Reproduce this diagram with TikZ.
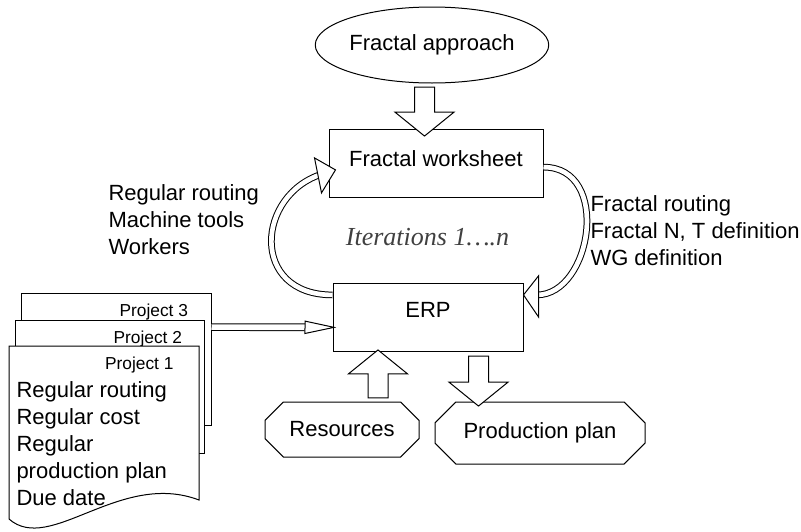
\documentclass[tikz,border=0pt]{standalone}
\usepackage{fontspec}
\setmainfont{Liberation Sans}
\newfontfamily\iterfont{Liberation Serif}
\usetikzlibrary{shapes.geometric,shapes.misc,shapes.arrows,arrows.meta,calc}

\begin{document}
\begin{tikzpicture}[x=0.75pt,y=-0.75pt,line width=0.75pt,font=\fontsize{16.5}{20.25}\selectfont]
        \tikzstyle{box} = [draw, rectangle, minimum width=142.5pt, minimum height=51pt, inner sep=0pt, text height=12pt];
        \tikzstyle{terminal} = [draw, chamfered rectangle, chamfered rectangle xsep=8pt, chamfered rectangle ysep=8pt, inner sep=0pt];
        \tikzstyle{sheet} = [draw, fill=white, rectangle, inner sep=0pt];
        \tikzstyle{sheetlabel} = [font=\fontsize{13}{15}\selectfont, inner sep=0pt, anchor=base east];
        \tikzstyle{notes} = [align=left, inner sep=0pt, anchor=west];
        \tikzstyle{fatarrow} = [draw, fill=white, single arrow, inner xsep=0pt, inner ysep=7.125pt, single arrow head extend=14.6pt, single arrow tip angle=102];
        \tikzstyle{loop} = [double, double distance=3.5pt, shorten >=10pt];
        \tikzstyle{loophead} = [draw, fill=white, line join=miter];
        \tikzstyle{feed} = [double, double distance=4.25pt, -{Triangle[open, fill=white, line width=0.75pt, length=24pt, width=10pt]}];

        \useasboundingbox (0,0) rectangle (801,532);

        \node [sheet, minimum width=142.5pt, minimum height=99pt] (proj3) at (116,359) {};
        \node [sheetlabel] (p3n) at ([xshift=-17.25pt, yshift=-18pt]proj3.north east) {Project 3};
        \node [sheet, minimum width=141.75pt, minimum height=99.75pt] (proj2) at (109.5,386.5) {};
        \node [sheetlabel] (p2n) at ([xshift=-16.5pt, yshift=-18pt]proj2.north east) {Project 2};
        \draw [fill=white] (9,346) -- (199,346) -- (199,500) .. controls (120,470) and (50,555) .. (9,519) -- cycle;
        \node [sheetlabel] (p1n) at (174,369) {Project 1};
        \node [notes] (p1c) at (16,444) {Regular routing\\Regular cost\\Regular\\production plan\\Due date};

        \node [draw, ellipse, minimum width=171.75pt, minimum height=57pt, inner sep=0pt] (app) at (432,45) {Fractal approach};
        \node [box, minimum width=160.5pt, text depth=7.5pt] (ws) at (436,163) {Fractal worksheet};
        \node [box, text depth=12pt] (erp) at (428,317) {ERP};
        \node [terminal, minimum width=115.5pt, minimum height=41.25pt] (res) at (342,429.5) {Resources};
        \node [terminal, minimum width=157.5pt, minimum height=46.5pt] (plan) at (540,433) {Production plan};

        \node [fatarrow, rotate=-90, minimum height=36.75pt] (a1) at (424.5,107.5) {};
        \node [fatarrow, rotate=90, minimum height=36pt] (a2) at (378,378) {};
        \node [fatarrow, rotate=-90, minimum height=37.5pt] (a3) at (478.5,377) {};

        \node [notes] (inputs) at (108,219.5) {Regular routing\\Machine tools\\Workers};
        \node [notes] (outputs) at (590,231) {Fractal routing\\Fractal N, T definition\\WG definition};
        \node [font=\iterfont\itshape\fontsize{19.5}{22}\selectfont, text=black!75, anchor=base, inner sep=0pt] (iter) at (427.5,245) {Iterations 1….n};

        \coordinate (erpin) at ($(erp.north west)!0.65!(erp.south west)$);
        \coordinate (erpout) at ($(erp.north west)!0.18!(erp.south west)$);
        \coordinate (erpback) at ($(erp.north east)!0.18!(erp.south east)$);
        \coordinate (wsin) at ($(ws.north west)!0.6!(ws.south west)+(5.25pt,0)$);
        \coordinate (wsout) at ($(ws.north east)!0.56!(ws.south east)$);

        \draw [feed, shorten >=-3pt] ($(proj3.north east)!0.26!(proj3.south east)$) -- (erpin);
        \draw [loop] (erpout) to[out=180, in=197, looseness=1.7] (wsin);
        \draw [loophead] (wsin) -- ++(-21,-12) -- ++(7,35) -- cycle;
        \draw [loop] (wsout) to[out=0, in=0, looseness=1.35] (erpback);
        \draw [loophead] (erpback) -- ++(15,-19) -- ++(0,41) -- cycle;
\end{tikzpicture}
\end{document}
